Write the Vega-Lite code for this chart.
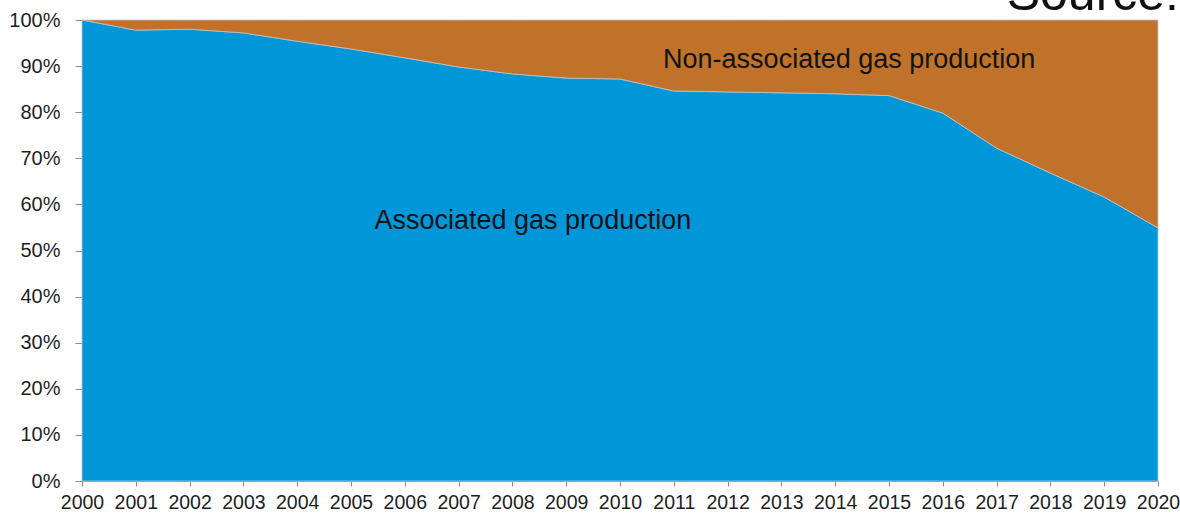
{
  "$schema": "https://vega.github.io/schema/vega-lite/v6.json",
  "width": 1076,
  "height": 461,
  "autosize": {"type": "none"},
  "padding": {"left": 82, "top": 20, "right": 22, "bottom": 35},
  "background": "white",
  "config": {
    "view": {"stroke": null},
    "font": "Liberation Sans"
  },
  "title": {
    "text": "Source:",
    "anchor": "end",
    "frame": "group",
    "orient": "top",
    "fontSize": 50,
    "fontWeight": "normal",
    "font": "Liberation Sans",
    "color": "#111111",
    "baseline": "alphabetic",
    "offset": 0,
    "dx": 21,
    "dy": 50
  },
  "datasets": {
    "shares": [
      {"year": 2000, "type": "Associated", "share": 100.0},
      {"year": 2001, "type": "Associated", "share": 97.8},
      {"year": 2002, "type": "Associated", "share": 98.0},
      {"year": 2003, "type": "Associated", "share": 97.2},
      {"year": 2004, "type": "Associated", "share": 95.4},
      {"year": 2005, "type": "Associated", "share": 93.7},
      {"year": 2006, "type": "Associated", "share": 91.8},
      {"year": 2007, "type": "Associated", "share": 89.8},
      {"year": 2008, "type": "Associated", "share": 88.3},
      {"year": 2009, "type": "Associated", "share": 87.4},
      {"year": 2010, "type": "Associated", "share": 87.2},
      {"year": 2011, "type": "Associated", "share": 84.6},
      {"year": 2012, "type": "Associated", "share": 84.4},
      {"year": 2013, "type": "Associated", "share": 84.2},
      {"year": 2014, "type": "Associated", "share": 84.0},
      {"year": 2015, "type": "Associated", "share": 83.6},
      {"year": 2016, "type": "Associated", "share": 79.8},
      {"year": 2017, "type": "Associated", "share": 72.2},
      {"year": 2018, "type": "Associated", "share": 66.8},
      {"year": 2019, "type": "Associated", "share": 61.6},
      {"year": 2020, "type": "Associated", "share": 54.9},
      {"year": 2000, "type": "Non-associated", "share": 0.0},
      {"year": 2001, "type": "Non-associated", "share": 2.2},
      {"year": 2002, "type": "Non-associated", "share": 2.0},
      {"year": 2003, "type": "Non-associated", "share": 2.8},
      {"year": 2004, "type": "Non-associated", "share": 4.6},
      {"year": 2005, "type": "Non-associated", "share": 6.3},
      {"year": 2006, "type": "Non-associated", "share": 8.2},
      {"year": 2007, "type": "Non-associated", "share": 10.2},
      {"year": 2008, "type": "Non-associated", "share": 11.7},
      {"year": 2009, "type": "Non-associated", "share": 12.6},
      {"year": 2010, "type": "Non-associated", "share": 12.8},
      {"year": 2011, "type": "Non-associated", "share": 15.4},
      {"year": 2012, "type": "Non-associated", "share": 15.6},
      {"year": 2013, "type": "Non-associated", "share": 15.8},
      {"year": 2014, "type": "Non-associated", "share": 16.0},
      {"year": 2015, "type": "Non-associated", "share": 16.4},
      {"year": 2016, "type": "Non-associated", "share": 20.2},
      {"year": 2017, "type": "Non-associated", "share": 27.8},
      {"year": 2018, "type": "Non-associated", "share": 33.2},
      {"year": 2019, "type": "Non-associated", "share": 38.4},
      {"year": 2020, "type": "Non-associated", "share": 45.1}
    ],
    "labels": [
      {"label": "Non-associated gas production", "year": 2014.26, "share": 89.6},
      {"label": "Associated gas production", "year": 2008.38, "share": 54.7}
    ]
  },
  "layer": [
    {
      "data": {"name": "shares"},
      "mark": {"type": "area", "interpolate": "linear", "stroke": "#b9c6cc", "strokeWidth": 0.8},
      "encoding": {
        "x": {
          "field": "year",
          "type": "quantitative",
          "scale": {"domain": [2000, 2020], "nice": false, "zero": false},
          "axis": {
            "title": null,
            "values": [2000, 2001, 2002, 2003, 2004, 2005, 2006, 2007, 2008, 2009, 2010, 2011, 2012, 2013, 2014, 2015, 2016, 2017, 2018, 2019, 2020],
            "format": "d",
            "grid": false,
            "labelFont": "Liberation Sans",
            "labelFontSize": 19.5,
            "labelColor": "#1e1e1e",
            "labelPadding": 7,
            "labelFlush": false,
            "labelOverlap": false,
            "tickSize": 5,
            "tickColor": "#8c8c8c",
            "domainColor": "#8c8c8c",
            "domainWidth": 1
          }
        },
        "y": {
          "field": "share",
          "type": "quantitative",
          "stack": "zero",
          "scale": {"domain": [0, 100], "nice": false},
          "axis": {
            "title": null,
            "values": [0, 10, 20, 30, 40, 50, 60, 70, 80, 90, 100],
            "labelExpr": "datum.value + '%'",
            "grid": false,
            "labelFont": "Liberation Sans",
            "labelFontSize": 20,
            "labelColor": "#1e1e1e",
            "labelPadding": 15,
            "tickSize": 7,
            "tickColor": "#8c8c8c",
            "domainColor": "#8c8c8c",
            "domainWidth": 1
          }
        },
        "color": {
          "field": "type",
          "type": "nominal",
          "scale": {"domain": ["Associated", "Non-associated"], "range": ["#0096d8", "#c0722b"]},
          "legend": null
        },
        "order": {"field": "type", "sort": "ascending"}
      }
    },
    {
      "data": {"name": "labels"},
      "mark": {"type": "text", "align": "center", "baseline": "alphabetic", "fontSize": 27, "font": "Liberation Sans", "color": "#121212"},
      "encoding": {
        "x": {"field": "year", "type": "quantitative"},
        "y": {"field": "share", "type": "quantitative"},
        "text": {"field": "label", "type": "nominal"}
      }
    }
  ]
}
